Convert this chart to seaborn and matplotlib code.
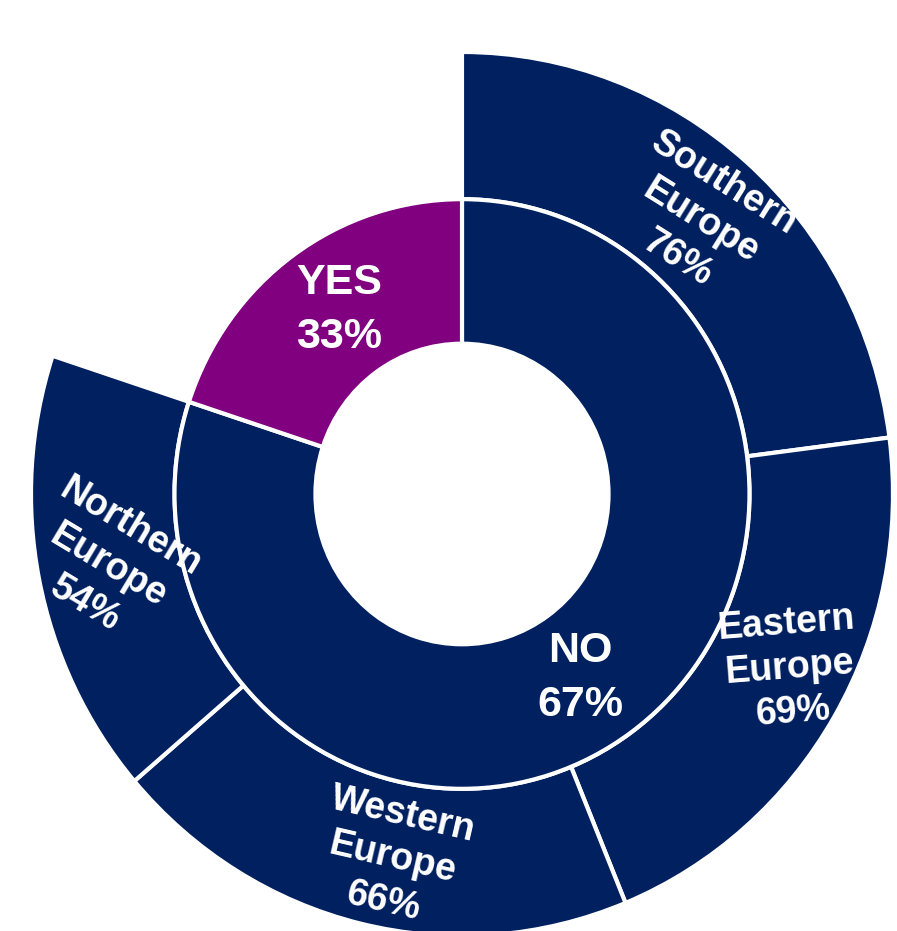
import numpy as np
import matplotlib
matplotlib.use("Agg")
import matplotlib.pyplot as plt
import seaborn as sns

# ---- data ----
regions = ["Southern\nEurope", "Eastern\nEurope", "Western\nEurope", "Northern\nEurope"]
region_pct = [76, 69, 66, 54]          # outer ring (share of "NO" by region)
answers = ["NO", "YES"]
answer_pct = [67, 33]                  # inner ring labels
yes_arc_weight = 66                    # angular weight of the YES slice as drawn

# ---- styles ----
NAVY = "#002060"
PURPLE = "#800080"
region_rot = [-32, 4.5, -13, -31]
region_nudge = [(0.5, 0.830), (-2.8, 0.857), (-2.6, 0.839), (0.0, 0.837)]  # (deg clockwise, radius)
answer_nudge = [(2.4, 0.498), (1.4, 0.505)]

sns.set_theme(style="white")
plt.rcParams["font.family"] = ["Liberation Sans", "DejaVu Sans"]

fig = plt.figure(figsize=(8.97, 9.31), dpi=100)
ax = fig.add_axes([0, 0, 1, 1])

outer_sizes = region_pct + [yes_arc_weight]
outer_colors = [NAVY] * len(region_pct) + ["none"]
inner_sizes = [sum(region_pct), yes_arc_weight]
inner_colors = [NAVY, PURPLE]

R_OUT, R_MID, R_IN = 1.0, 0.667, 0.34

outer, _ = ax.pie(outer_sizes, radius=R_OUT, startangle=90, counterclock=False,
                  colors=outer_colors,
                  wedgeprops=dict(width=R_OUT - R_MID, edgecolor="white", linewidth=3))
outer[-1].set_visible(False)
inner, _ = ax.pie(inner_sizes, radius=R_MID, startangle=90, counterclock=False,
                  colors=inner_colors,
                  wedgeprops=dict(width=R_MID - R_IN, edgecolor="white", linewidth=3))

def mid_xy(w, nudge):
    d, r = nudge
    a = np.deg2rad((w.theta1 + w.theta2) / 2 - d)
    return r * np.cos(a), r * np.sin(a)

for w, name, pct, rot, nd in zip(outer[:-1], regions, region_pct, region_rot, region_nudge):
    x, y = mid_xy(w, nd)
    ax.text(x, y, f"{name}\n{pct}%", ha="center", va="center", rotation=rot,
            rotation_mode="anchor", multialignment="center", color="white",
            fontsize=27, fontweight="bold", linespacing=1.3)

for w, name, pct, nd in zip(inner, answers, answer_pct, answer_nudge):
    x, y = mid_xy(w, nd)
    ax.text(x, y, f"{name}\n{pct}%", ha="center", va="center",
            multialignment="center", color="white",
            fontsize=31, fontweight="bold", linespacing=1.45)

ax.set_aspect("auto")
ax.set_xlim(-1.0719, 1.0093)
ax.set_ylim(-0.9887, 1.1176)
ax.axis("off")

fig.savefig("out.png", dpi=100, facecolor="white")
